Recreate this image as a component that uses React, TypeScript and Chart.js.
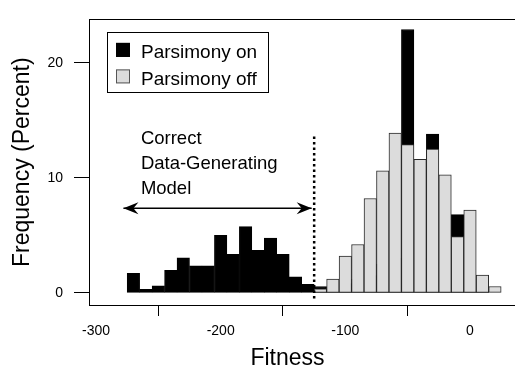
import React, { useEffect, useRef } from 'react';
import { Chart, registerables } from 'chart.js';

Chart.register(...registerables);

// ---- data ----
const binCenters = [
  -270, -260, -250, -240, -230, -220, -210, -200, -190, -180,
  -170, -160, -150, -140, -130, -120, -110, -100, -90, -80,
  -70, -60, -50, -40, -30, -20, -10, 0, 10, 20,
];
const parsimonyOn = [
  1.7, 0.3, 0.6, 1.95, 3.05, 2.35, 2.35, 5.0, 3.35, 5.75,
  3.7, 4.75, 3.35, 1.4, 0.75, 0.55, 0.3, 0.8, 1.2, 1.5,
  2.5, 3.0, 22.9, 3.0, 13.8, 2.5, 6.8, 1.0, 0.3, 0,
];
const parsimonyOff = [
  0, 0, 0, 0, 0, 0, 0, 0, 0, 0,
  0, 0, 0, 0, 0, 0.35, 1.2, 3.2, 4.2, 8.2,
  10.6, 13.9, 12.9, 11.6, 12.5, 10.25, 4.9, 7.2, 1.55, 0.55,
];
const seriesLabels = ['Parsimony on', 'Parsimony off'];
const xTicks = [-300, -200, -100, 0];
const yTicks = [0, 10, 20];
const xTitle = 'Fitness';
const yTitle = 'Frequency (Percent)';
const noteLines = ['Correct', 'Data-Generating', 'Model'];
const cutoffX = -125;
const cutoffY = [13.6, -0.75];
const arrowX = [-278, -127];
const arrowY = 7.35;
const noteAnchor = { x: -264, y: 12.95 };

const FONT = "'Liberation Sans', Arial, Helvetica, sans-serif";
const ON_COLOR = '#000000';
const OFF_COLOR = '#dcdcdc';
const OFF_BORDER = '#2a2a2a';

const overlayPlugin = {
  id: 'overlay',
  afterDraw(chart: any) {
    const { ctx, chartArea, scales } = chart;
    const xs = scales.x;
    const ys = scales.y;
    ctx.save();
    // top frame line
    ctx.strokeStyle = '#000';
    ctx.lineWidth = 1;
    ctx.beginPath();
    ctx.moveTo(chartArea.left, Math.round(chartArea.top) + 0.5);
    ctx.lineTo(chartArea.right, Math.round(chartArea.top) + 0.5);
    ctx.stroke();

    // arrow heads
    const ay = ys.getPixelForValue(arrowY);
    const lx = xs.getPixelForValue(arrowX[0]);
    const rx = xs.getPixelForValue(arrowX[1]);
    ctx.fillStyle = '#000';
    const head = (tip: number, dir: number) => {
      ctx.beginPath();
      ctx.moveTo(tip, ay);
      ctx.lineTo(tip + dir * 15, ay - 6);
      ctx.lineTo(tip + dir * 10, ay);
      ctx.lineTo(tip + dir * 15, ay + 6);
      ctx.closePath();
      ctx.fill();
    };
    head(lx, 1);
    head(rx, -1);

    // note text
    ctx.font = `18.5px ${FONT}`;
    ctx.textAlign = 'left';
    ctx.textBaseline = 'alphabetic';
    const nx = xs.getPixelForValue(noteAnchor.x);
    const ny = ys.getPixelForValue(noteAnchor.y);
    noteLines.forEach((t, i) => ctx.fillText(t, nx, ny + i * 25));

    // legend
    const bx = chartArea.left + 18;
    const by = chartArea.top + 12.5;
    ctx.lineWidth = 1;
    ctx.strokeStyle = '#000';
    ctx.strokeRect(Math.round(bx) + 0.5, Math.round(by) + 0.5, 161, 60);
    const colors = [ON_COLOR, OFF_COLOR];
    const borders = ['#000', '#555'];
    ctx.font = `19px ${FONT}`;
    seriesLabels.forEach((lab, i) => {
      const sy = by + 11 + i * 26.5;
      ctx.fillStyle = colors[i];
      ctx.fillRect(bx + 9, sy, 14, 14);
      ctx.strokeStyle = borders[i];
      ctx.strokeRect(bx + 9.5, sy + 0.5, 13, 13);
      ctx.fillStyle = '#000';
      ctx.fillText(lab, bx + 34, sy + 15.5);
    });

    // axis titles
    ctx.font = `23px ${FONT}`;
    ctx.textAlign = 'center';
    ctx.fillText(xTitle, 287.5, 365);
    ctx.save();
    ctx.translate(28.5, (chartArea.top + chartArea.bottom) / 2);
    ctx.rotate(-Math.PI / 2);
    ctx.fillText(yTitle, 0, 0);
    ctx.restore();
    ctx.restore();
  },
};

export default function App() {
  const ref = useRef<HTMLCanvasElement>(null);
  useEffect(() => {
    if (!ref.current) return;
    Chart.defaults.font.family = FONT;
    const chart = new Chart(ref.current, {
      type: 'bar',
      data: {
        datasets: [
          {
            type: 'line',
            label: 'arrow',
            data: arrowX.map((x) => ({ x, y: arrowY })),
            borderColor: '#000',
            borderWidth: 1.5,
            pointRadius: 0,
            order: 0,
          } as any,
          {
            type: 'line',
            label: 'cutoff',
            data: cutoffY.map((y) => ({ x: cutoffX, y })),
            borderColor: '#000',
            borderWidth: 2.5,
            borderDash: [2.5, 3],
            pointRadius: 0,
            order: 0,
          } as any,
          {
            label: seriesLabels[1],
            data: binCenters.map((x, i) => ({ x, y: parsimonyOff[i] })),
            backgroundColor: OFF_COLOR,
            borderColor: OFF_BORDER,
            borderWidth: 1,
            borderSkipped: false,
            grouped: false,
            barPercentage: 1,
            categoryPercentage: 1,
            order: 1,
          } as any,
          {
            label: seriesLabels[0],
            data: binCenters.map((x, i) => ({ x, y: parsimonyOn[i] })),
            backgroundColor: ON_COLOR,
            borderColor: '#000',
            borderWidth: 1,
            borderSkipped: false,
            grouped: false,
            barPercentage: 1,
            categoryPercentage: 1,
            order: 2,
          } as any,
        ],
      },
      options: {
        animation: false,
        responsive: false,
        devicePixelRatio: 1,
        layout: { padding: { left: 0, right: 0, top: 7, bottom: 0 } },
        plugins: { legend: { display: false }, tooltip: { enabled: false } },
        scales: {
          x: {
            type: 'linear',
            offset: false,
            min: -305.615,
            max: 48.13,
            afterFit: (s: any) => { s.height = 66; },
            afterBuildTicks: (s: any) => { s.ticks = xTicks.map((v) => ({ value: v })); },
            grid: { drawOnChartArea: false, drawTicks: true, tickLength: 11, color: '#000' },
            border: { display: true, color: '#000', width: 1 },
            ticks: { color: '#000', font: { size: 14, family: FONT }, padding: 7, maxRotation: 0, autoSkip: false },
          },
          y: {
            type: 'linear',
            min: -1.058,
            max: 23.775,
            afterFit: (s: any) => { s.width = 89; },
            afterBuildTicks: (s: any) => { s.ticks = yTicks.map((v) => ({ value: v })); },
            grid: { drawOnChartArea: false, drawTicks: true, tickLength: 15, color: '#000' },
            border: { display: true, color: '#000', width: 1 },
            ticks: { color: '#000', font: { size: 14, family: FONT }, padding: 11 },
          },
        },
      } as any,
      plugins: [overlayPlugin],
    });
    return () => chart.destroy();
  }, []);
  return (
    <div style={{ position: 'absolute', left: 0, top: 0, width: 515, height: 371, overflow: 'hidden', background: '#fff' }}>
      <canvas ref={ref} width={530} height={371} style={{ display: 'block' }} />
    </div>
  );
}
